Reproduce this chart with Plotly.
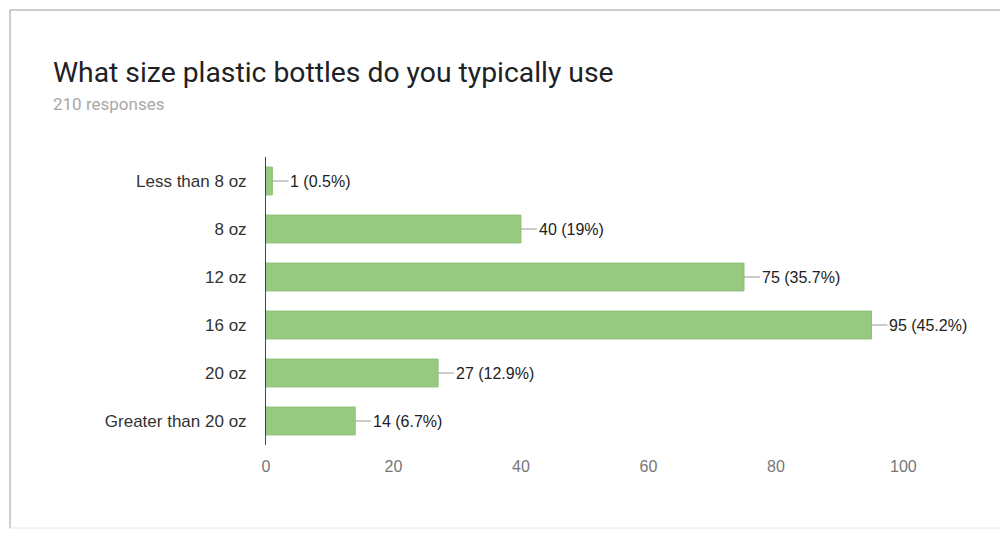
import plotly.graph_objects as go

categories = ["Less than 8 oz", "8 oz", "12 oz", "16 oz", "20 oz", "Greater than 20 oz"]
counts = [1, 40, 75, 95, 27, 14]
percents = ["0.5%", "19%", "35.7%", "45.2%", "12.9%", "6.7%"]
x_ticks = [0, 20, 40, 60, 80, 100]

title_text = "What size plastic bottles do you typically use"
subtitle_text = "210 responses"

FONT = "Arial, Liberation Sans, sans-serif"

fig = go.Figure()
fig.add_trace(go.Bar(
    y=categories, x=counts, orientation="h",
    marker=dict(color="#98c981", line=dict(color="#8dbf76", width=1)),
    hoverinfo="x+y",
))

for c, v, p in zip(categories, counts, percents):
    fig.add_annotation(
        x=v, y=c, xref="x", yref="y",
        text=f"{v} ({p})", showarrow=True, arrowhead=0, arrowwidth=1,
        arrowcolor="#999999", ax=16, ay=0, axref="pixel", ayref="pixel",
        xanchor="left", yanchor="middle", standoff=0, startstandoff=0,
        font=dict(family=FONT, size=16, color="#222222"),
    )

W, H = 1000, 535
L, R, T, B = 266, 31, 157, 90
pw, ph = W - L - R, H - T - B

def px_x(px):
    return (px - L) / pw

def px_y(py):
    return (H - B - py) / ph

# card border
fig.add_shape(type="line", xref="paper", yref="paper",
              x0=px_x(10), x1=px_x(10), y0=px_y(10), y1=px_y(528),
              line=dict(color="#9a9a9a", width=1))
fig.add_shape(type="line", xref="paper", yref="paper",
              x0=px_x(10), x1=px_x(1000), y0=px_y(10), y1=px_y(10),
              line=dict(color="#9a9a9a", width=1))
fig.add_shape(type="line", xref="paper", yref="paper",
              x0=px_x(10), x1=px_x(1000), y0=px_y(528), y1=px_y(528),
              line=dict(color="#e6e6e6", width=1))

fig.add_annotation(text=title_text, xref="paper", yref="paper",
                   x=px_x(51), y=px_y(72), xanchor="left", yanchor="middle",
                   showarrow=False, font=dict(family="Roboto, Arial", size=28.3, color="#202124"))
fig.add_annotation(text=subtitle_text, xref="paper", yref="paper",
                   x=px_x(51), y=px_y(104), xanchor="left", yanchor="middle",
                   showarrow=False, font=dict(family="Roboto, Arial", size=17, color="#a8a8a8"))

fig.update_layout(
    width=W, height=H,
    margin=dict(l=L, r=R, t=T, b=B, pad=0),
    paper_bgcolor="white", plot_bgcolor="white",
    showlegend=False, bargap=0.42,
    font=dict(family=FONT),
    xaxis=dict(range=[0, 110.3], tickvals=x_ticks, showgrid=False, zeroline=False,
               showline=False, ticks="", ticklabelstandoff=10,
               tickfont=dict(size=16, color="#777777"),
               fixedrange=True),
    yaxis=dict(categoryorder="array", categoryarray=categories[::-1],
               autorange=False, range=[-0.5, 5.5],
               showgrid=False, zeroline=False, showline=True, linecolor="#444444",
               linewidth=1, ticks="", ticklabelstandoff=15,
               tickfont=dict(size=17, color="#333333"), fixedrange=True),
)

fig.write_html("out.html")
